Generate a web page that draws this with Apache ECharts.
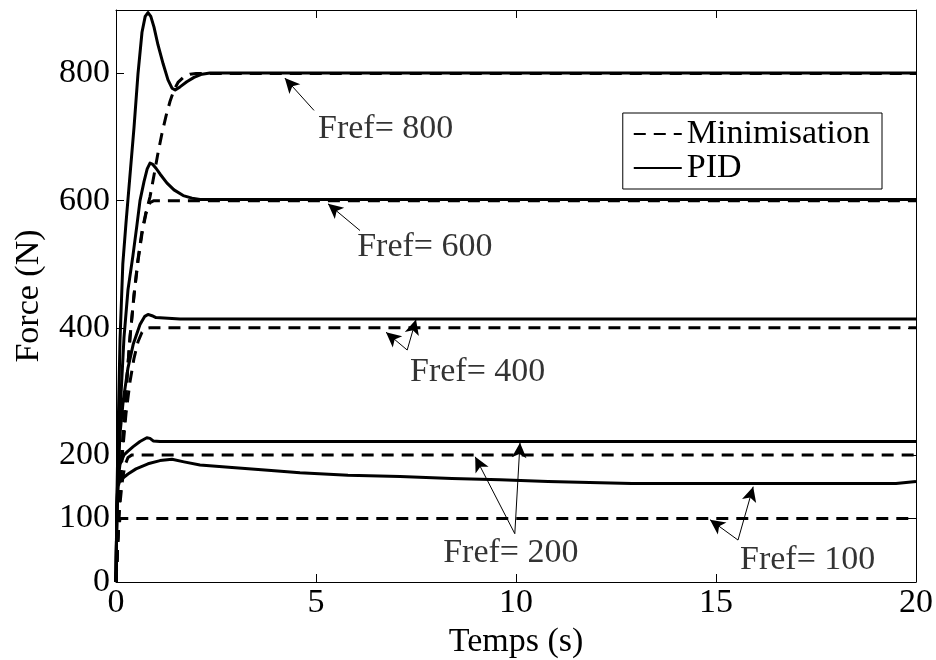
<!DOCTYPE html>
<html>
<head>
<meta charset="utf-8">
<script src="https://cdn.jsdelivr.net/npm/echarts@6/dist/echarts.min.js"></script>
<style>
html,body{margin:0;padding:0;background:#fff;}
#chart{width:936px;height:660px;}
</style>
</head>
<body>
<div id="chart"></div>
<script>
// ---------- data ----------
const xTicks = [0, 5, 10, 15, 20];
const yTicks = [0, 100, 200, 400, 600, 800];

// Minimisation (dashed)
const min100T = [0, 0.03, 0.06, 0.1, 20];
const min100V = [0, 40, 80, 100, 100];
const min200T = [0, 0.03, 0.08, 0.15, 0.22, 0.3, 0.4, 20];
const min200V = [0, 45, 110, 155, 183, 196, 200, 200];
const min400T = [0, 0.03, 0.08, 0.15, 0.25, 0.35, 0.45, 0.55, 0.65, 0.75, 0.85, 20];
const min400V = [0, 50, 120, 195, 265, 315, 352, 378, 393, 399, 400, 400];
const min600T = [0, 0.03, 0.08, 0.15, 0.25, 0.35, 0.45, 0.55, 0.65, 0.75, 0.85, 0.95, 20];
const min600V = [0, 50, 125, 205, 300, 385, 450, 505, 548, 580, 597, 600, 600];
const min800T = [0, 0.03, 0.08, 0.15, 0.25, 0.35, 0.45, 0.55, 0.65, 0.75, 0.85, 0.95, 1.05, 1.15, 1.25, 1.35, 1.45, 1.55, 1.7, 1.85, 2.0, 20];
const min800V = [0, 50, 125, 205, 300, 385, 452, 508, 552, 582, 606, 640, 675, 706, 733, 756, 774, 786, 795, 799, 800, 800];

// PID (solid)
const pid100T = [0, 0.02, 0.05, 0.1, 0.3, 0.5, 0.8, 1.1, 1.4, 1.7, 2.1, 2.9, 3.8, 4.6, 5.8, 7.1, 8.4, 9.6, 10.8, 12.1, 12.9, 15, 17, 19.5, 20];
const pid100V = [0, 100, 150, 160, 170, 178, 186, 191, 193, 189, 184, 180, 176, 172, 168, 166, 163, 161, 158, 156, 155, 155, 155, 155, 158];
const pid200T = [0, 0.02, 0.05, 0.1, 0.2, 0.3, 0.43, 0.6, 0.77, 0.85, 0.93, 1.1, 20];
const pid200V = [0, 110, 160, 185, 200, 206, 213, 221, 227, 226, 222, 221, 221];
const pid400T = [0, 0.02, 0.05, 0.1, 0.18, 0.3, 0.43, 0.6, 0.72, 0.8, 0.9, 1.0, 1.3, 1.6, 20];
const pid400V = [0, 110, 165, 233, 285, 337, 374, 405, 418, 421, 419, 416, 415, 414, 414];
const pid600T = [0, 0.02, 0.05, 0.1, 0.2, 0.3, 0.42, 0.52, 0.6, 0.7, 0.78, 0.85, 0.92, 1.0, 1.1, 1.27, 1.45, 1.68, 1.9, 2.1, 20];
const pid600V = [0, 110, 180, 265, 385, 460, 512, 560, 600, 630, 650, 659, 657, 651, 642, 628, 617, 608, 604, 602, 602];
const pid800T = [0, 0.02, 0.05, 0.1, 0.17, 0.25, 0.35, 0.45, 0.55, 0.65, 0.73, 0.8, 0.87, 0.95, 1.05, 1.18, 1.3, 1.4, 1.48, 1.6, 1.77, 1.95, 2.15, 2.35, 20];
const pid800V = [0, 120, 230, 380, 500, 565, 640, 715, 800, 865, 890, 896, 890, 873, 845, 815, 790, 777, 774, 779, 787, 794, 799, 801, 801];

// Annotations: text, text anchor [t, F], arrow tails and heads
const annTexts = ['Fref= 800', 'Fref= 600', 'Fref= 400', 'Fref= 200', 'Fref= 100'];
const annTextPos = [[5.05, 713], [6.03, 527], [7.35, 330], [8.18, 46], [15.6, 34]];
const arrowTails = [[4.95, 742], [6.1, 553], [7.28, 365], [7.28, 365], [9.97, 76], [9.97, 76], [15.55, 66], [15.55, 66]];
const arrowHeads = [[4.22, 793], [5.3, 595], [6.75, 393], [7.5, 413], [8.98, 197], [10.1, 219], [14.85, 98], [15.93, 150]];

// ---------- build ----------
const zip = (t, v) => t.map((x, i) => [x, v[i]]);
const FONT = 'Liberation Serif';
const FS = 34;

function lineSeries(name, t, v, dashed) {
  return {
    name: name, type: 'line', data: zip(t, v),
    showSymbol: false, symbol: 'none', animation: false, silent: true,
    lineStyle: { color: '#000', width: 3, type: dashed ? [12, 8] : 'solid', cap: 'butt', join: 'round' },
    itemStyle: { color: '#000' },
    z: dashed ? 3 : 2
  };
}

const series = [
  lineSeries('Minimisation', min800T, min800V, true),
  lineSeries('Minimisation', min600T, min600V, true),
  lineSeries('Minimisation', min400T, min400V, true),
  lineSeries('Minimisation', min200T, min200V, true),
  lineSeries('Minimisation', min100T, min100V, true),
  lineSeries('PID', pid800T, pid800V, false),
  lineSeries('PID', pid600T, pid600V, false),
  lineSeries('PID', pid400T, pid400V, false),
  lineSeries('PID', pid200T, pid200V, false),
  lineSeries('PID', pid100T, pid100V, false),
  {
    name: 'annot', type: 'scatter', symbolSize: 0, animation: false, silent: true,
    data: annTextPos.map((p, i) => ({ value: p, label: { formatter: annTexts[i] } })),
    label: { show: true, position: 'right', distance: 0, color: '#000', fontFamily: FONT, fontSize: FS },
    markLine: {
      silent: true, animation: false,
      symbol: ['none', 'arrow'], symbolSize: [11, 15],
      lineStyle: { color: '#000', width: 1, type: 'solid' },
      label: { show: false },
      data: arrowTails.map((a, i) => [{ coord: a }, { coord: arrowHeads[i] }])
    },
    z: 5
  }
];

const chart = echarts.init(document.getElementById('chart'), null, { renderer: 'canvas' });
chart.setOption({
  backgroundColor: '#fff',
  animation: false,
  grid: { left: 116, right: 20, top: 10, bottom: 78, containLabel: false, outerBoundsMode: 'none' },
  legend: {
    data: ['Minimisation', 'PID'],
    orient: 'vertical', right: 54, top: 113,
    itemWidth: 48, itemHeight: 14, itemGap: 0,
    padding: [4, 12, 4, 10],
    borderColor: '#000', borderWidth: 1, backgroundColor: '#fff',
    itemStyle: { color: 'rgba(0,0,0,0)', borderWidth: 0, opacity: 0 },
    textStyle: { fontFamily: FONT, fontSize: FS, color: '#000', lineHeight: 31 },
    selectedMode: false
  },
  xAxis: [{
    type: 'value', min: 0, max: 20, interval: 5,
    name: 'Temps (s)', nameLocation: 'middle', nameGap: 34,
    nameTextStyle: { fontFamily: FONT, fontSize: FS, color: '#000' },
    axisLine: { show: true, lineStyle: { color: '#000', width: 1 } },
    axisTick: { show: true, inside: true, length: 8, lineStyle: { color: '#000' } },
    axisLabel: { fontFamily: FONT, fontSize: FS, color: '#000', margin: 4 },
    splitLine: { show: false }
  }, {
    type: 'value', min: 0, max: 20, interval: 5, position: 'top',
    axisLine: { show: true, onZero: false, lineStyle: { color: '#000', width: 1 } },
    axisTick: { show: true, inside: true, length: 8, lineStyle: { color: '#000' } },
    axisLabel: { show: false }, splitLine: { show: false }
  }],
  yAxis: [{
    type: 'value', min: 0, max: 900,
    name: 'Force (N)', nameLocation: 'middle', nameGap: 70, nameRotate: 90,
    nameTextStyle: { fontFamily: FONT, fontSize: FS, color: '#000' },
    axisLine: { show: true, lineStyle: { color: '#000', width: 1 } },
    axisTick: { show: true, inside: true, length: 8, customValues: yTicks, lineStyle: { color: '#000' } },
    axisLabel: { fontFamily: FONT, fontSize: FS, color: '#000', margin: 6, customValues: yTicks },
    splitLine: { show: false }
  }, {
    type: 'value', min: 0, max: 900, position: 'right',
    axisLine: { show: true, onZero: false, lineStyle: { color: '#000', width: 1 } },
    axisTick: { show: true, inside: true, length: 8, customValues: yTicks, lineStyle: { color: '#000' } },
    axisLabel: { show: false }, splitLine: { show: false }
  }],
  series: series
});
</script>
</body>
</html>
